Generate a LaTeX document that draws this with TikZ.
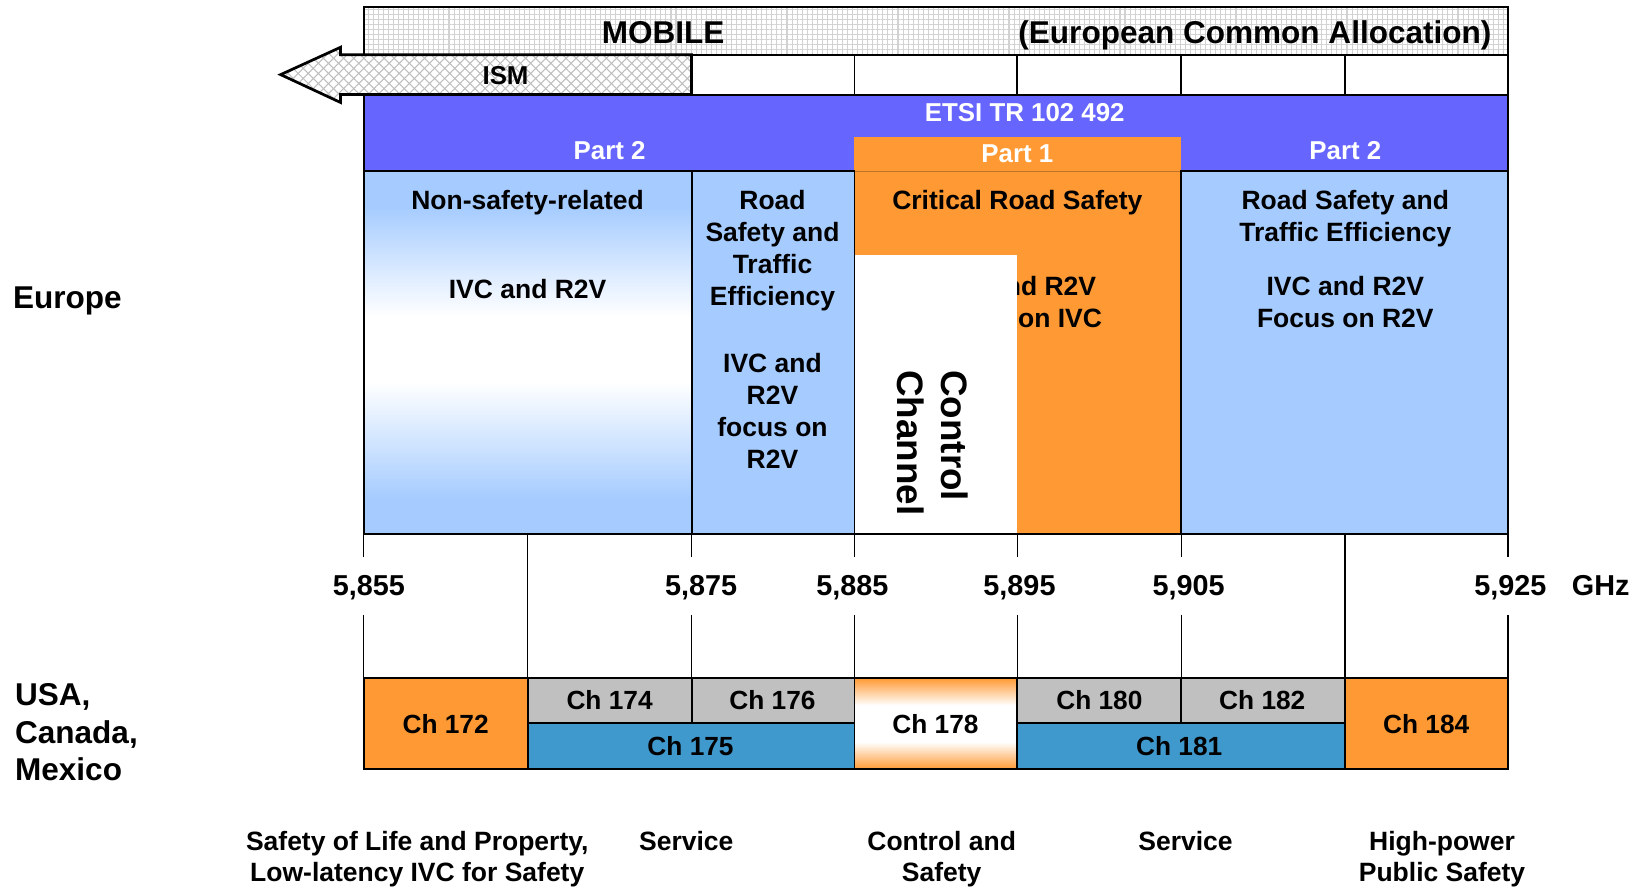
\documentclass[tikz,border=0pt]{standalone}
\usepackage{fontspec}
\setmainfont{Liberation Sans}
\usetikzlibrary{patterns.meta}

\definecolor{etsiblue}{RGB}{102,102,255}
\definecolor{lightblue}{RGB}{166,204,255}
\definecolor{orng}{RGB}{255,153,51}
\definecolor{chgray}{RGB}{192,192,192}
\definecolor{chblue}{RGB}{64,153,204}
\definecolor{gridgray}{RGB}{210,210,210}
\definecolor{hatchgray}{RGB}{190,190,190}

% light blue fading to white in the middle of the non-safety band
\pgfdeclareverticalshading{nonsafety}{100bp}{color(0bp)=(lightblue); color(25bp)=(lightblue); color(30bp)=(lightblue); color(46bp)=(white); color(55bp)=(white); color(70bp)=(lightblue); color(75bp)=(lightblue); color(100bp)=(lightblue)}
% orange-white-orange fill of the control channel
\pgfdeclareverticalshading{ctrlch}{100bp}{color(0bp)=(orng); color(25bp)=(orng); color(40bp)=(white); color(60bp)=(white); color(75bp)=(orng); color(100bp)=(orng)}

\tikzset{
  box/.style={draw=black, line width=0.9pt},
  tick/.style={draw=black, line width=0.8pt},
  body/.style={inner sep=0pt, align=center, anchor=base, font=\bfseries\fontsize{12.6}{15.3}\selectfont},
  wlabel/.style={inner sep=0pt, anchor=base, text=white, font=\bfseries\fontsize{12.3}{15}\selectfont},
  big/.style={inner sep=0pt, anchor=base, font=\bfseries\fontsize{15}{18}\selectfont},
  axis/.style={inner sep=0pt, anchor=base, font=\bfseries\fontsize{13.7}{16}\selectfont},
  region/.style={inner sep=0pt, anchor=base west, align=left, font=\bfseries\fontsize{15}{18}\selectfont},
  chan/.style={inner sep=0pt, anchor=base, font=\bfseries\fontsize{12.5}{15}\selectfont},
  vert/.style={inner sep=0pt, anchor=base west, rotate=-90, font=\bfseries\fontsize{17.5}{21}\selectfont},
  foot/.style={inner sep=0pt, align=center, anchor=base, font=\bfseries\fontsize{12.6}{15}\selectfont},
}

% multi-line nodes are placed by the baseline of their last line
\begin{document}
\begin{tikzpicture}[x=0.5pt,y=-0.5pt]
\useasboundingbox (0,0) rectangle (1568,844);

% ---------- MOBILE band ----------
\fill[white] (346,7) rectangle (1435,52);
\fill[pattern={Lines[angle=0,distance=2.4pt,line width=0.5pt]}, pattern color=gridgray] (346,7) rectangle (1435,52);
\fill[pattern={Lines[angle=90,distance=2.4pt,line width=0.5pt]}, pattern color=gridgray] (346,7) rectangle (1435,52);
\draw[box] (346,7) rectangle (1435,52);
\node[big] (mobile) at (631,41) {MOBILE};
\node[big] (eca) at (1194,41) {(European Common Allocation)};

% ---------- ISM row ----------
\foreach \a/\b in {658/813, 813/968, 968/1124, 1124/1280, 1280/1435}
  \draw[box] (\a,52) rectangle (\b,90);
\fill[white] (658,52) -- (324,52) -- (324,45) -- (267,71) -- (324,97.5) -- (324,90) -- (658,90) -- cycle;
\fill[pattern={Lines[angle=45,distance=3.4pt,line width=0.5pt]}, pattern color=hatchgray]
  (658,52) -- (324,52) -- (324,45) -- (267,71) -- (324,97.5) -- (324,90) -- (658,90) -- cycle;
\fill[pattern={Lines[angle=-45,distance=3.4pt,line width=0.5pt]}, pattern color=hatchgray]
  (658,52) -- (324,52) -- (324,45) -- (267,71) -- (324,97.5) -- (324,90) -- (658,90) -- cycle;
\draw[black, line width=1.3pt, line join=miter]
  (658,52) -- (324,52) -- (324,45) -- (267,71) -- (324,97.5) -- (324,90) -- (658,90) -- cycle;
\node[big, font=\bfseries\fontsize{12.3}{15}\selectfont] (ism) at (481,80) {ISM};

% ---------- ETSI band ----------
\fill[etsiblue] (346,90) rectangle (1435,163);
\draw[box] (346,90) rectangle (1435,163);
\fill[orng] (813,130) rectangle (1124,508);
\draw[orng!75!black, line width=0.5pt] (813,163) -- (1124,163);
\node[wlabel] (etsi) at (975,116) {ETSI TR 102 492};
\node[wlabel] (p2a) at (580,152) {Part 2};
\node[wlabel] (p1) at (968,155) {Part 1};
\node[wlabel] (p2b) at (1280,152) {Part 2};

% ---------- European columns ----------
\shade[shading=nonsafety] (346,163) rectangle (658,508);
\draw[box] (346,163) rectangle (658,508);
\fill[lightblue] (658,163) rectangle (813,508);
\draw[box] (658,163) rectangle (813,508);
\fill[lightblue] (1124,163) rectangle (1435,508);
\draw[box] (1124,163) rectangle (1435,508);

\node[body] (a1) at (502,199) {Non-safety-related};
\node[body] (a2) at (502,284) {IVC and R2V};
\node[body] (b1) at (735,290.8) {Road\\Safety and\\Traffic\\Efficiency};
\node[body] (b2) at (735,445.8) {IVC and\\R2V\\focus on\\R2V};
\node[body] (c1) at (968,199) {Critical Road Safety};
\node[body] (c2) at (968,311.6) {IVC and R2V\\Focus on IVC};
\node[body] (d1) at (1280,229.6) {Road Safety and\\Traffic Efficiency};
\node[body] (d2) at (1280,311.6) {IVC and R2V\\Focus on R2V};

% control channel block
\fill[white] (813,243) rectangle (968,508);
\draw[box] (813,163) -- (813,508);
\draw[box] (346,508) -- (1435,508);
\node[vert] (ctrl) at (896,352) {Control};
\node[vert] (chan) at (854,352) {Channel};

% ---------- frequency axis ----------
\foreach \x in {346,658,813,968,1124,1435} {
  \draw[tick] (\x,508) -- (\x,530);
  \draw[tick] (\x,585) -- (\x,645);
}
\foreach \x in {502,1280}
  \draw[tick] (\x,508) -- (\x,645);
\node[axis] (f855) at (351,567) {5,855};
\node[axis] (f875) at (667,567) {5,875};
\node[axis] (f885) at (811,567) {5,885};
\node[axis] (f895) at (970,567) {5,895};
\node[axis] (f905) at (1131,567) {5,905};
\node[axis] (f925) at (1437,567) {5,925};
\node[axis] (ghz) at (1523,567) {GHz};

% ---------- US channels ----------
\fill[orng] (346,645) rectangle (502,732);
\draw[box] (346,645) rectangle (502,732);
\fill[chgray] (502,645) rectangle (658,688);
\draw[box] (502,645) rectangle (658,688);
\fill[chgray] (658,645) rectangle (813,688);
\draw[box] (658,645) rectangle (813,688);
\fill[chblue] (502,688) rectangle (813,732);
\draw[box] (502,688) rectangle (813,732);
\shade[shading=ctrlch] (813,645) rectangle (968,732);
\draw[box] (813,645) rectangle (968,732);
\fill[chgray] (968,645) rectangle (1124,688);
\draw[box] (968,645) rectangle (1124,688);
\fill[chgray] (1124,645) rectangle (1280,688);
\draw[box] (1124,645) rectangle (1280,688);
\fill[chblue] (968,688) rectangle (1280,732);
\draw[box] (968,688) rectangle (1280,732);
\fill[orng] (1280,645) rectangle (1435,732);
\draw[box] (1280,645) rectangle (1435,732);

\node[chan] (ch172) at (424,698) {Ch 172};
\node[chan] (ch174) at (580,675) {Ch 174};
\node[chan] (ch176) at (735,675) {Ch 176};
\node[chan] (ch175) at (657,719) {Ch 175};
\node[chan] (ch178) at (890,698) {Ch 178};
\node[chan] (ch180) at (1046,675) {Ch 180};
\node[chan] (ch182) at (1201,675) {Ch 182};
\node[chan] (ch181) at (1122,719) {Ch 181};
\node[chan] (ch184) at (1357,698) {Ch 184};

% ---------- region names ----------
\node[region] (europe) at (12,294) {Europe};
\node[region] (usa) at (14,743) {USA,\\Canada,\\Mexico};

% ---------- channel usage ----------
\node[foot] (u1) at (397,839) {Safety of Life and Property,\\Low-latency IVC for Safety};
\node[foot] (u2) at (653,809) {Service};
\node[foot] (u3) at (896,839) {Control and\\Safety};
\node[foot] (u4) at (1128,809) {Service};
\node[foot] (u5) at (1372,839) {High-power\\Public Safety};
\end{tikzpicture}
\end{document}
